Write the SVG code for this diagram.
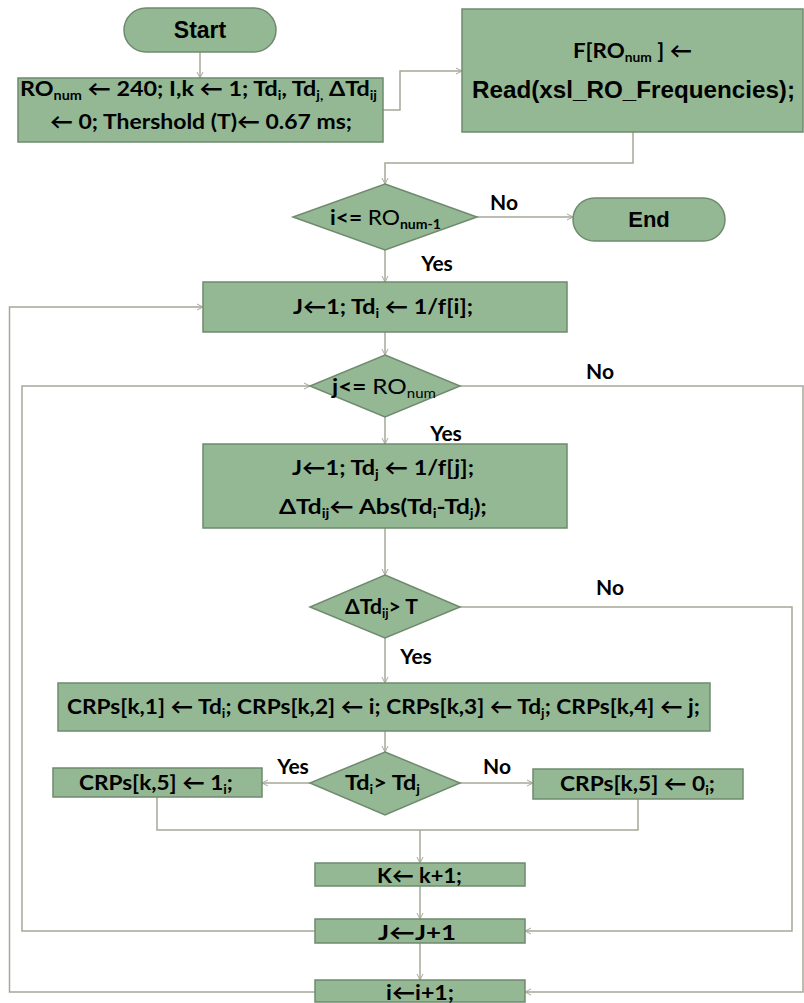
<svg xmlns="http://www.w3.org/2000/svg" width="804" height="1003" viewBox="0 0 804 1003">
<style>
.n{fill:#94b894;stroke:#6f8a6e;stroke-width:1.5}
.c{fill:none;stroke:#a6a898;stroke-width:1.5}
.t{font-family:Lato,"Open Sans","DejaVu Sans",sans-serif;font-weight:bold;font-size:21px;fill:#000;text-anchor:middle}
.a{font-family:"Liberation Sans",Arial,sans-serif;font-weight:bold;fill:#000;text-anchor:middle}
.l{font-family:Lato,"Open Sans",sans-serif;font-weight:bold;font-size:21px;fill:#000;text-anchor:middle}
.s{font-size:13px}
.r{font-weight:normal}
</style>
<defs>
<marker id="ar" markerWidth="8" markerHeight="8" refX="7" refY="4" orient="auto" markerUnits="userSpaceOnUse">
<path d="M1,1 L7,4 L1,7" fill="none" stroke="#a6a898" stroke-width="1"/>
</marker>
</defs>
<g id="connectors">
<path class="c" d="M200,52 V78" marker-end="url(#ar)"/>
<path class="c" d="M383,110 H400 V71 H462" marker-end="url(#ar)"/>
<path class="c" d="M633,132 V163 H385 V184" marker-end="url(#ar)"/>
<path class="c" d="M477,217 H573" marker-end="url(#ar)"/>
<path class="c" d="M385,250 V282" marker-end="url(#ar)"/>
<path class="c" d="M385,332 V355" marker-end="url(#ar)"/>
<path class="c" d="M385,417 V444" marker-end="url(#ar)"/>
<path class="c" d="M385,528 V575" marker-end="url(#ar)"/>
<path class="c" d="M385,638 V683" marker-end="url(#ar)"/>
<path class="c" d="M385,731 V752" marker-end="url(#ar)"/>
<path class="c" d="M310,783 H262" marker-end="url(#ar)"/>
<path class="c" d="M460,783 H533" marker-end="url(#ar)"/>
<path class="c" d="M157,797 V830 H638 V799"/>
<path class="c" d="M420,830 V863" marker-end="url(#ar)"/>
<path class="c" d="M420,886 V919" marker-end="url(#ar)"/>
<path class="c" d="M420,943 V980" marker-end="url(#ar)"/>
<path class="c" d="M315,931 H22 V386 H310" marker-end="url(#ar)"/>
<path class="c" d="M315,992 H9.5 V307 H203" marker-end="url(#ar)"/>
<path class="c" d="M460,386 H803 V992 H525" marker-end="url(#ar)"/>
<path class="c" d="M460,607 H792 V931 H525" marker-end="url(#ar)"/>
</g>
<g id="start">
<rect class="n" x="124" y="8" width="152" height="44" rx="22"/>
<text class="a" x="200" y="38" font-size="23">Start</text>
</g>
<g id="init">
<rect class="n" x="18" y="78" width="365" height="64"/>
<text class="t" x="198.5" y="96" textLength="357" lengthAdjust="spacingAndGlyphs">RO<tspan class="s" dy="4">num</tspan><tspan dy="-4"> ← 240; I,k ← 1; Td</tspan><tspan class="s" dy="4">i</tspan><tspan dy="-4">, Td</tspan><tspan class="s" dy="4">j,</tspan><tspan dy="-4"> ΔTd</tspan><tspan class="s" dy="4">ij</tspan></text>
<text class="t" x="201" y="129" textLength="302" lengthAdjust="spacingAndGlyphs">← 0; Thershold (T)← 0.67 ms;</text>
</g>
<g id="read">
<rect class="n" x="462" y="9" width="341" height="123"/>
<text class="t" x="632.5" y="58" textLength="119" lengthAdjust="spacingAndGlyphs">F[RO<tspan class="s" dy="4">num</tspan><tspan dy="-4"> ] ←</tspan></text>
<text class="a" x="633.5" y="98" font-size="24" textLength="323" lengthAdjust="spacingAndGlyphs">Read(xsl_RO_Frequencies);</text>
</g>
<g id="dec1">
<polygon class="n" points="385,184 477,217 385,250 293,217"/>
<text class="t" x="385.5" y="225" textLength="111" lengthAdjust="spacingAndGlyphs">i&lt;= <tspan class="r">RO</tspan><tspan class="s" dy="4">num-1</tspan></text>
<text class="l" x="504" y="210">No</text>
<text class="l" x="437" y="271">Yes</text>
</g>
<g id="end">
<rect class="n" x="573" y="198" width="152" height="43" rx="21.5"/>
<text class="a" x="649" y="227" font-size="22">End</text>
</g>
<g id="initj">
<rect class="n" x="203" y="282" width="364" height="50"/>
<text class="t" x="383" y="314" textLength="180" lengthAdjust="spacingAndGlyphs">J←1; Td<tspan class="s" dy="4">i</tspan><tspan dy="-4"> ← 1/f[i];</tspan></text>
</g>
<g id="dec2">
<polygon class="n" points="385,355 460,386 385,417 310,386"/>
<text class="t" x="384" y="394" textLength="104" lengthAdjust="spacingAndGlyphs">j&lt;= <tspan class="r">RO</tspan><tspan class="s r" dy="4">num</tspan></text>
<text class="l" x="600" y="379">No</text>
<text class="l" x="446" y="441">Yes</text>
</g>
<g id="calc">
<rect class="n" x="203" y="444" width="364" height="84"/>
<text class="t" x="383" y="475" textLength="182" lengthAdjust="spacingAndGlyphs">J←1; Td<tspan class="s" dy="4">j</tspan><tspan dy="-4"> ← 1/f[j];</tspan></text>
<text class="t" x="383" y="514" textLength="208" lengthAdjust="spacingAndGlyphs">ΔTd<tspan class="s" dy="4">ij</tspan><tspan dy="-4">← Abs(Td</tspan><tspan class="s" dy="4">i</tspan><tspan dy="-4">-Td</tspan><tspan class="s" dy="4">j</tspan><tspan dy="-4">);</tspan></text>
</g>
<g id="dec3">
<polygon class="n" points="385,575 460,607 385,638 310,607"/>
<text class="t" x="381.5" y="614" textLength="73" lengthAdjust="spacingAndGlyphs">ΔTd<tspan class="s" dy="4">ij</tspan><tspan dy="-4">&gt; T</tspan></text>
<text class="l" x="610" y="595">No</text>
<text class="l" x="416" y="664">Yes</text>
</g>
<g id="store">
<rect class="n" x="58" y="683" width="652" height="48"/>
<text class="t" x="383.5" y="714" textLength="633" lengthAdjust="spacingAndGlyphs">CRPs[k,1] ← Td<tspan class="s" dy="4">i</tspan><tspan dy="-4">; CRPs[k,2] ← i; CRPs[k,3] ← Td</tspan><tspan class="s" dy="4">j</tspan><tspan dy="-4">; CRPs[k,4] ← j;</tspan></text>
</g>
<g id="dec4">
<polygon class="n" points="385,752 460,783 385,815 310,783"/>
<text class="t" x="382.5" y="790" textLength="75" lengthAdjust="spacingAndGlyphs">Td<tspan class="s" dy="4">i</tspan><tspan dy="-4">&gt; Td</tspan><tspan class="s" dy="4">j</tspan></text>
<text class="l" x="293" y="774">Yes</text>
<text class="l" x="497" y="774">No</text>
</g>
<g id="set1">
<rect class="n" x="53" y="768" width="209" height="29"/>
<text class="t" x="156" y="790" textLength="154" lengthAdjust="spacingAndGlyphs">CRPs[k,5] ← 1<tspan class="s" dy="4">i</tspan><tspan dy="-4">;</tspan></text>
</g>
<g id="set0">
<rect class="n" x="533" y="769" width="210" height="30"/>
<text class="t" x="637.5" y="791" textLength="155" lengthAdjust="spacingAndGlyphs">CRPs[k,5] ← 0<tspan class="s" dy="4">i</tspan><tspan dy="-4">;</tspan></text>
</g>
<g id="inck">
<rect class="n" x="315" y="863" width="210" height="23"/>
<text class="t" x="419.5" y="883" font-size="26" textLength="85" lengthAdjust="spacingAndGlyphs">K← k+1;</text>
</g>
<g id="incj">
<rect class="n" x="315" y="919" width="210" height="24"/>
<text class="t" x="417" y="940" font-size="28" textLength="78" lengthAdjust="spacingAndGlyphs">J←J+1</text>
</g>
<g id="inci">
<rect class="n" x="315" y="980" width="210" height="22"/>
<text class="t" x="420" y="1000" font-size="26" textLength="68" lengthAdjust="spacingAndGlyphs">i←i+1;</text>
</g>
</svg>
